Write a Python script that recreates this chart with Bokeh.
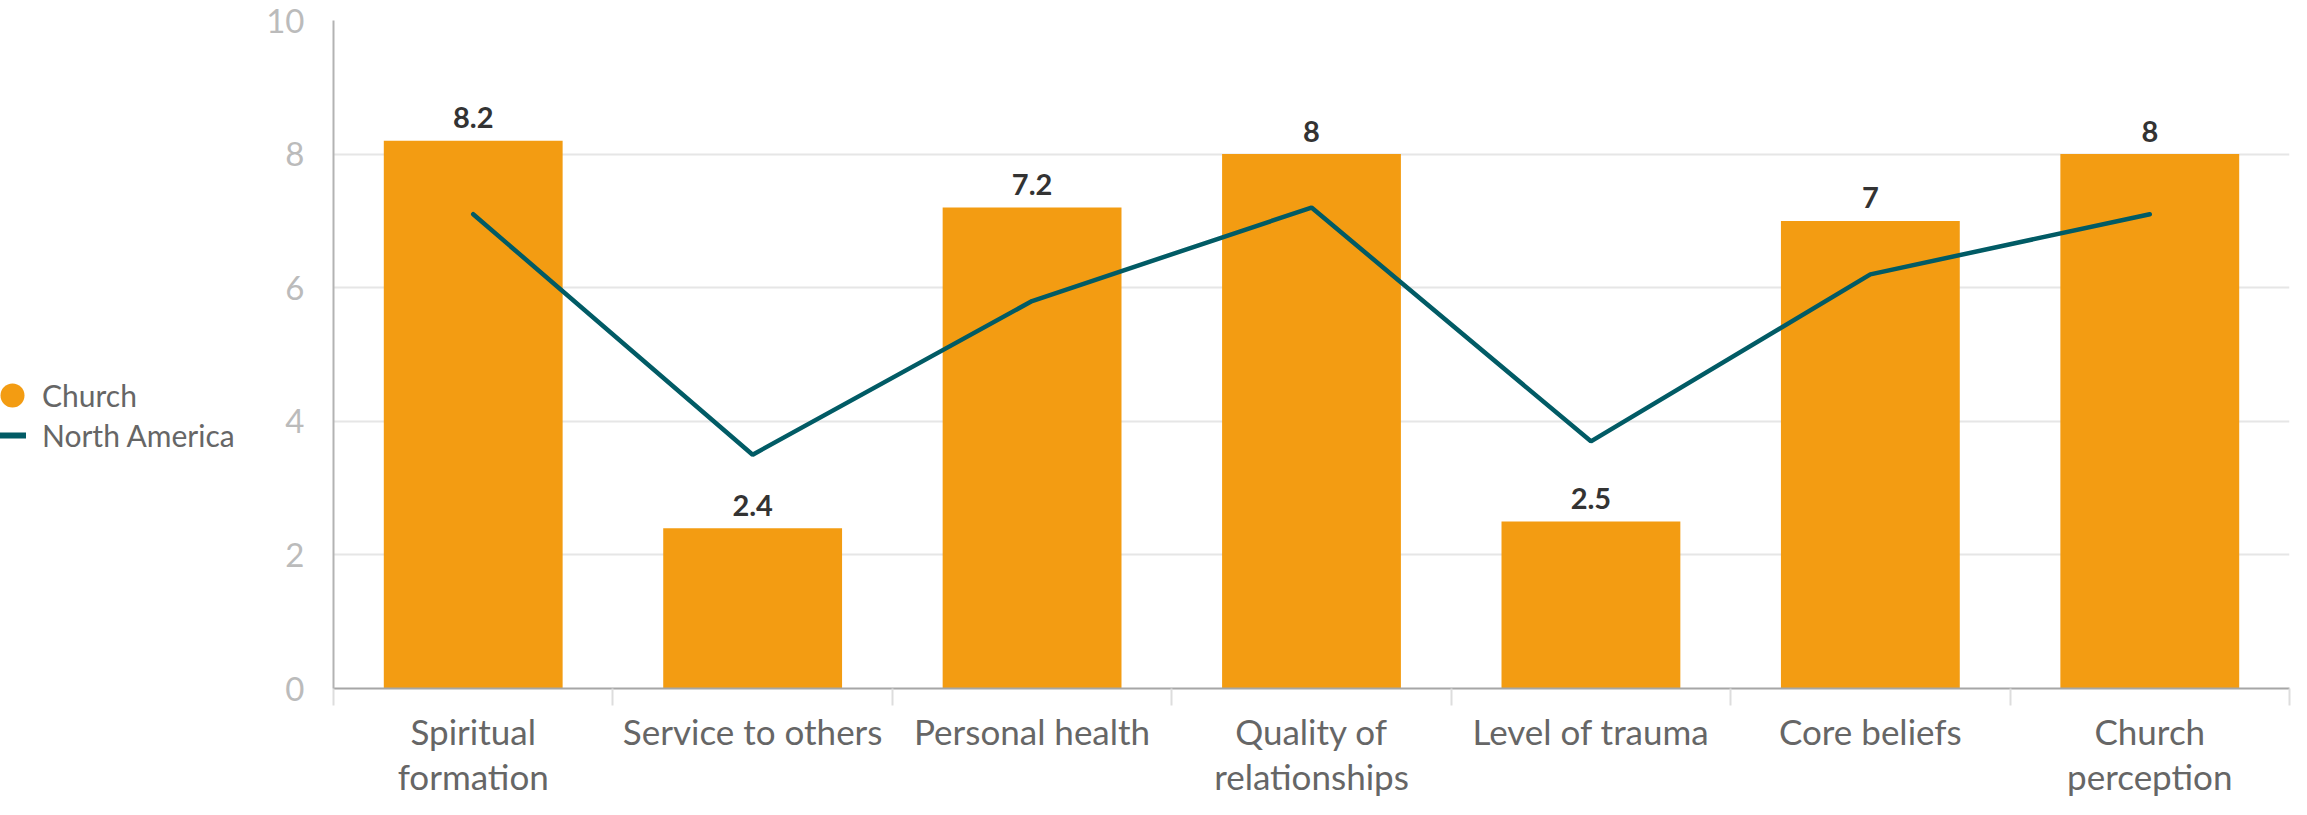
from bokeh.plotting import figure
from bokeh.layouts import row
from bokeh.models import (Range1d, FactorRange, LinearAxis, CategoricalAxis,
                          FixedTicker, Legend, LegendItem)
from bokeh.core.properties import value
from bokeh.embed import file_html
from bokeh.resources import INLINE

categories = ["Spiritual\nformation", "Service to others", "Personal health",
              "Quality of\nrelationships", "Level of trauma", "Core beliefs",
              "Church\nperception"]
church = [8.2, 2.4, 7.2, 8, 2.5, 7, 8]
church_labels = ["8.2", "2.4", "7.2", "8", "2.5", "7", "8"]
north_america = [7.1, 3.5, 5.8, 7.2, 3.7, 6.2, 7.1]
y_ticks = [0, 2, 4, 6, 8, 10]
series_names = ["Church", "North America"]

FONT = "Lato"
ORANGE = "#f39c12"
TEAL = "#015b65"
H = 799
LEG_W = 260
TOTAL_W = 2291

p = figure(width=TOTAL_W - LEG_W, height=H,
           x_range=FactorRange(factors=categories, range_padding=0),
           y_range=Range1d(0, 10),
           output_backend="svg", toolbar_location=None,
           x_axis_location=None,
           min_border_left=333 - LEG_W, min_border_right=2,
           min_border_top=20, min_border_bottom=0)
p.outline_line_color = None
p.background_fill_color = "white"
p.border_fill_color = "white"

# boundary ticks axis (nearest the frame), in the factor range's synthetic coords
edge_axis = LinearAxis(ticker=FixedTicker(ticks=list(range(len(categories) + 1))))
edge_axis.axis_line_color = "#a6a6a6"
edge_axis.axis_line_width = 2
edge_axis.major_tick_line_color = "#dddddd"
edge_axis.major_tick_line_width = 2
edge_axis.major_tick_out = 17
edge_axis.major_tick_in = 0
edge_axis.minor_tick_line_color = None
edge_axis.major_label_text_font_size = "0px"
edge_axis.major_label_standoff = 0
p.add_layout(edge_axis, "below")

cat_axis = CategoricalAxis()
cat_axis.axis_line_color = None
cat_axis.major_tick_line_color = None
cat_axis.major_tick_out = 0
cat_axis.major_tick_in = 0
cat_axis.major_label_standoff = 4
cat_axis.major_label_text_font = FONT
cat_axis.major_label_text_font_size = "35px"
cat_axis.major_label_text_line_height = 1.08
cat_axis.major_label_text_color = "#666666"
p.add_layout(cat_axis, "below")

# y axis
p.yaxis.ticker = FixedTicker(ticks=y_ticks)
p.yaxis.major_tick_out = 0
p.yaxis.major_tick_in = 0
p.yaxis.minor_tick_line_color = None
p.yaxis.major_label_standoff = 29
p.yaxis.major_label_text_font = FONT
p.yaxis.major_label_text_font_size = "33px"
p.yaxis.major_label_text_color = "#bbbbbb"
p.yaxis.axis_line_color = "#b3b3b3"
p.yaxis.axis_line_width = 2

p.xgrid.grid_line_color = None
p.ygrid.ticker = FixedTicker(ticks=y_ticks)
p.ygrid.grid_line_color = "#e6e6e6"
p.ygrid.grid_line_width = 2

p.vbar(x=categories, top=church, width=0.64, fill_color=ORANGE, line_color=None)
p.line(x=categories, y=north_america, line_color=TEAL, line_width=4.5,
       line_cap="round")
p.text(x=categories, y=church, text=church_labels, text_align="center",
       text_baseline="alphabetic", y_offset=-23,
       text_font=value(FONT), text_font_style="bold", text_font_size="29px",
       text_color="#333333")

# ---- legend panel (separate figure on the left) ----
lf = figure(width=LEG_W, height=H, x_range=Range1d(0, 1), y_range=Range1d(0, 1),
            output_backend="svg", toolbar_location=None,
            x_axis_location=None, y_axis_location=None,
            min_border=0, min_border_left=0, min_border_right=0,
            min_border_top=0, min_border_bottom=0)
lf.outline_line_color = None
lf.background_fill_color = "white"
lf.border_fill_color = "white"
lf.xgrid.visible = False
lf.ygrid.visible = False

nan = float("nan")
dot = lf.scatter(x=[nan], y=[nan], marker="circle", fill_color=ORANGE,
                 line_color=None)
ln = lf.line(x=[nan, nan], y=[nan, nan], line_color=TEAL, line_width=6)

common = dict(orientation="vertical", padding=0, margin=0,
              label_text_font=FONT, label_text_font_size="30px",
              label_text_color="#666666", label_height=30,
              border_line_color=None, background_fill_alpha=0)

leg1 = Legend(items=[LegendItem(label=series_names[0], renderers=[dot])],
              location=(-18, 263),
              glyph_width=60, glyph_height=60, label_standoff=-5, **common)
leg2 = Legend(items=[LegendItem(label=series_names[1], renderers=[ln])],
              location=(-7, 235),
              glyph_width=33, glyph_height=30, label_standoff=16, **common)
lf.add_layout(leg1, "center")
lf.add_layout(leg2, "center")

layout = row(lf, p, spacing=0)
open("out.html", "w").write(file_html(layout, INLINE))
